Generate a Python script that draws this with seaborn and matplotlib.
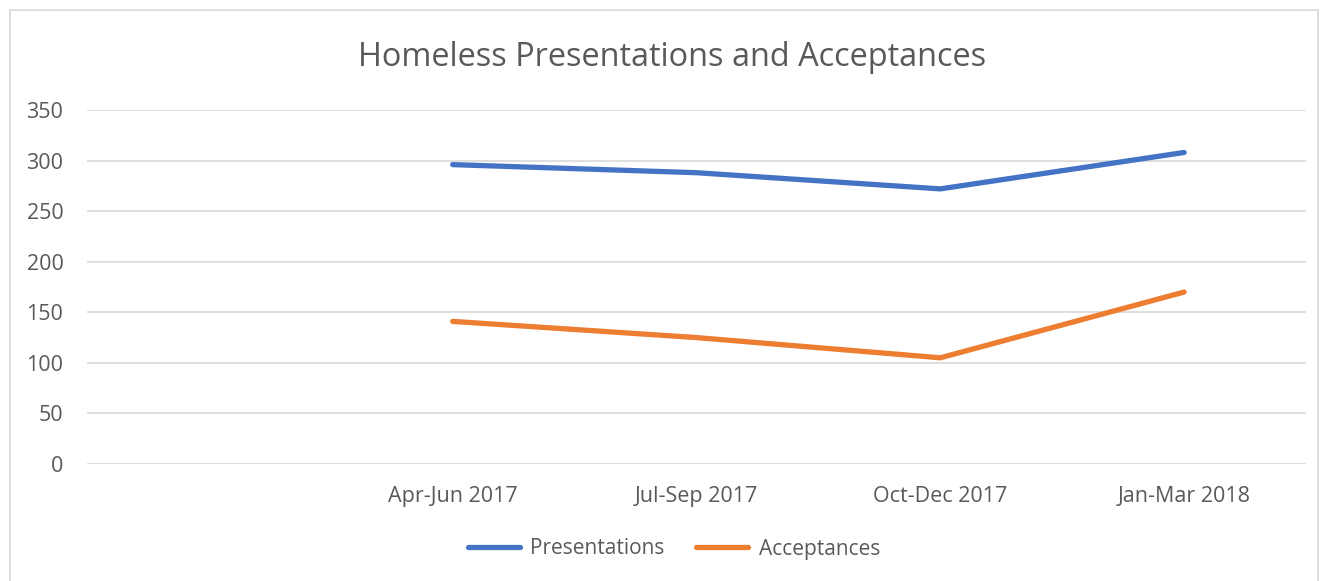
import matplotlib
matplotlib.use("Agg")
import matplotlib.pyplot as plt
from matplotlib.patches import Rectangle
from matplotlib.lines import Line2D
import seaborn as sns
import pandas as pd

# Quarterly homelessness figures
quarters = ["Apr-Jun 2017", "Jul-Sep 2017", "Oct-Dec 2017", "Jan-Mar 2018"]
presentations = [296, 288, 272, 308]
acceptances = [141, 125, 105, 170]
# the axis reserves an empty leading category slot
axis_labels = [""] + quarters

series_names = ["Presentations", "Acceptances"]
series_colors = ["#4472C4", "#ED7D31"]

rows = []
for name, vals in zip(series_names, [presentations, acceptances]):
    for q, v in zip(quarters, vals):
        rows.append({"pos": axis_labels.index(q), "value": v, "series": name})
df = pd.DataFrame(rows)

sns.set_theme(style="white")
plt.rcParams["font.family"] = ["Open Sans", "DejaVu Sans"]

W, H = 1327, 581
fig = plt.figure(figsize=(W / 100, H / 100), dpi=100)
ax = fig.add_axes([87 / W, 1 - 464 / H, (1306 - 87) / W, (464 - 110) / H])

sns.lineplot(data=df, x="pos", y="value", hue="series", hue_order=series_names,
             palette=series_colors, linewidth=3.8, ax=ax, legend=False,
             solid_capstyle="round")

ax.set_xlim(-0.5, len(axis_labels) - 0.5)
ax.set_ylim(0, 350)
ax.set_yticks(range(0, 351, 50))
ax.set_xticks(range(len(axis_labels)))
ax.set_xticklabels(axis_labels)
ax.yaxis.grid(True, color="#D9D9D9", linewidth=1.2)
ax.set_axisbelow(True)
for s in ax.spines.values():
    s.set_visible(False)
ax.tick_params(axis="both", length=0, labelsize=15.5, labelcolor="#595959")
ax.tick_params(axis="y", pad=17)
ax.tick_params(axis="x", pad=16)
ax.set_xlabel("")
ax.set_ylabel("")

fig.text(672 / W, 1 - 57 / H, "Homeless Presentations and Acceptances",
         ha="center", va="center", fontsize=23.4, color="#595959")

# legend at the bottom
handles = [Line2D([0], [0], color=c, linewidth=3.8, solid_capstyle="round")
           for c in series_colors]
fig.legend(handles, series_names, loc="center", bbox_to_anchor=(674 / W, 1 - 549 / H),
           ncol=2, frameon=False, fontsize=15, labelcolor="#595959",
           handlelength=2.5, handletextpad=0.5, columnspacing=1.5)

# chart frame
fig.patches.append(Rectangle((10 / W, -0.01), (1318 - 10) / W, 1 - 10 / H + 0.01,
                             transform=fig.transFigure, fill=False,
                             edgecolor="#D9D9D9", linewidth=1.2))

fig.savefig("out.png", dpi=100, facecolor="white")
